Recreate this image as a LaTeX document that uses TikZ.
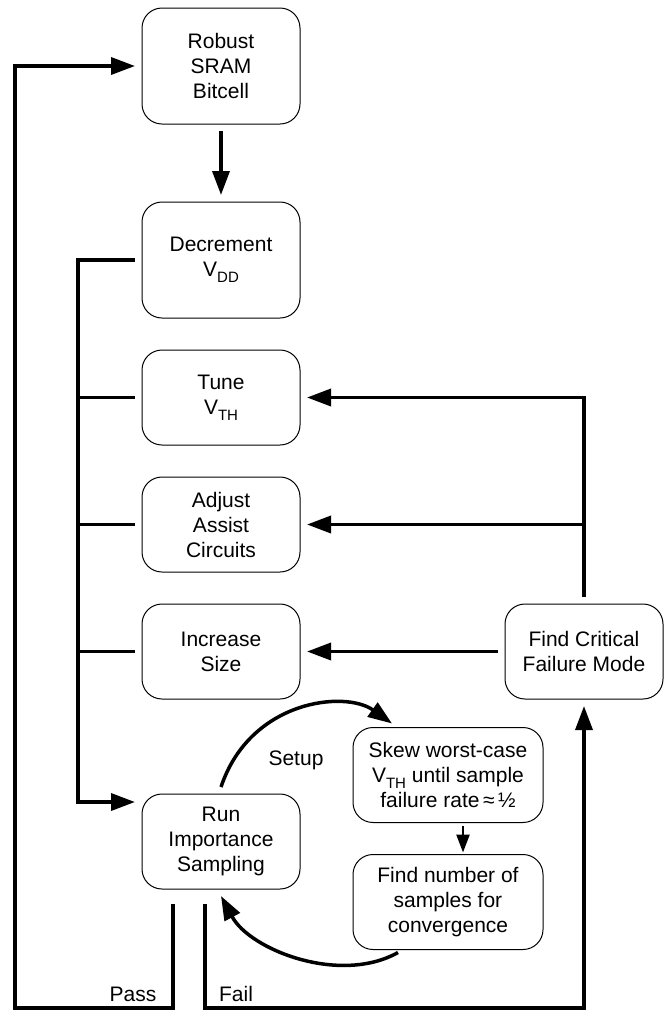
\documentclass[tikz,border=0pt]{standalone}
\usepackage{fontspec}
\setmainfont{Liberation Sans}
\usetikzlibrary{arrows.meta,positioning,calc}

\newcommand{\subtxt}[1]{\raisebox{-6pt}{\fontsize{15}{15}\selectfont #1}}

\begin{document}
\begin{tikzpicture}[
    x=1pt, y=-1pt,
    node distance=18pt and 18pt,
    stepbox/.style={draw, rounded corners=20pt, line width=1pt, align=center,
        minimum width=158pt, minimum height=95pt, outer sep=7pt,
        font=\fontsize{21}{25}\selectfont},
    tallbox/.style={stepbox, minimum height=116pt},
    widebox/.style={stepbox, minimum width=190pt},
    lbl/.style={font=\fontsize{21}{25}\selectfont},
    myedge/.style={line width=3.5pt},
    myarrow/.style={myedge, -{Triangle[length=24pt,width=17pt]}},
    smallarrow/.style={line width=2.5pt, -{Triangle[length=18pt,width=13pt]}}
]
\useasboundingbox (0,0) rectangle (669,1013);

% left column
\node[tallbox] (robust) at (221,66) {Robust\\SRAM\\Bitcell};
\node[tallbox] (dec) [below=64pt of robust] {Decrement\\V\subtxt{DD}};
\node[stepbox] (tune) [below=of dec] {Tune\\V\subtxt{TH}};
\node[stepbox] (adjust) [below=of tune] {Adjust\\Assist\\Circuits};
\node[stepbox] (increase) [below=of adjust] {Increase\\Size};
\node[stepbox] (run) [below=81pt of increase] {Run\\Importance\\Sampling};

% right side
\node[stepbox] (crit) [right=191pt of increase] {Find Critical\\Failure Mode};
\node[widebox] (skew) at (448,775) {Skew worst-case\\V\subtxt{TH} until sample\\failure rate\,≈\,½};
\node[widebox] (findnum) [below=of skew] {Find number of\\samples for\\convergence};

\coordinate (busbot) at (78,802);
\coordinate (pass) at ($(run.south)+(-48,8)$);
\coordinate (fail) at ($(run.south)+(-16,8)$);
\coordinate (botL) at (15,1008);

\draw[myarrow] (robust) -- (dec);

% left bus
\draw[myarrow] (dec.west) -| (busbot) -- (busbot -| run.west);
\draw[myedge] (tune.west) -- (tune.west -| busbot);
\draw[myedge] (adjust.west) -- (adjust.west -| busbot);
\draw[myedge] (increase.west) -- (increase.west -| busbot);

% right bus
\draw[myarrow] (crit.north) |- (tune.east);
\draw[myarrow] (crit.north |- adjust.east) -- (adjust.east);
\draw[myarrow] (crit.west) -- (increase.east);

% sampling loop
\draw[myarrow] (run.north) .. controls (250,700) and (345,690) .. ($(skew.north)+(-56,3)$);
\node[lbl] (setup) at (296,760) {Setup};
\draw[smallarrow] ($(skew.south)+(15,-4)$) -- ($(findnum.north)+(15,5)$);
\draw[myarrow] ($(findnum.south west)+(52,-4)$) .. controls (340,985) and (250,950) .. (run.south);

% pass / fail
\draw[myarrow] (pass) |- (botL) |- (robust.west);
\draw[myarrow] (fail) |- (crit.south |- botL) -- (crit.south);
\node[lbl] (passlbl) at (133,994) {Pass};
\node[lbl] (faillbl) at (236,994) {Fail};
\end{tikzpicture}
\end{document}
